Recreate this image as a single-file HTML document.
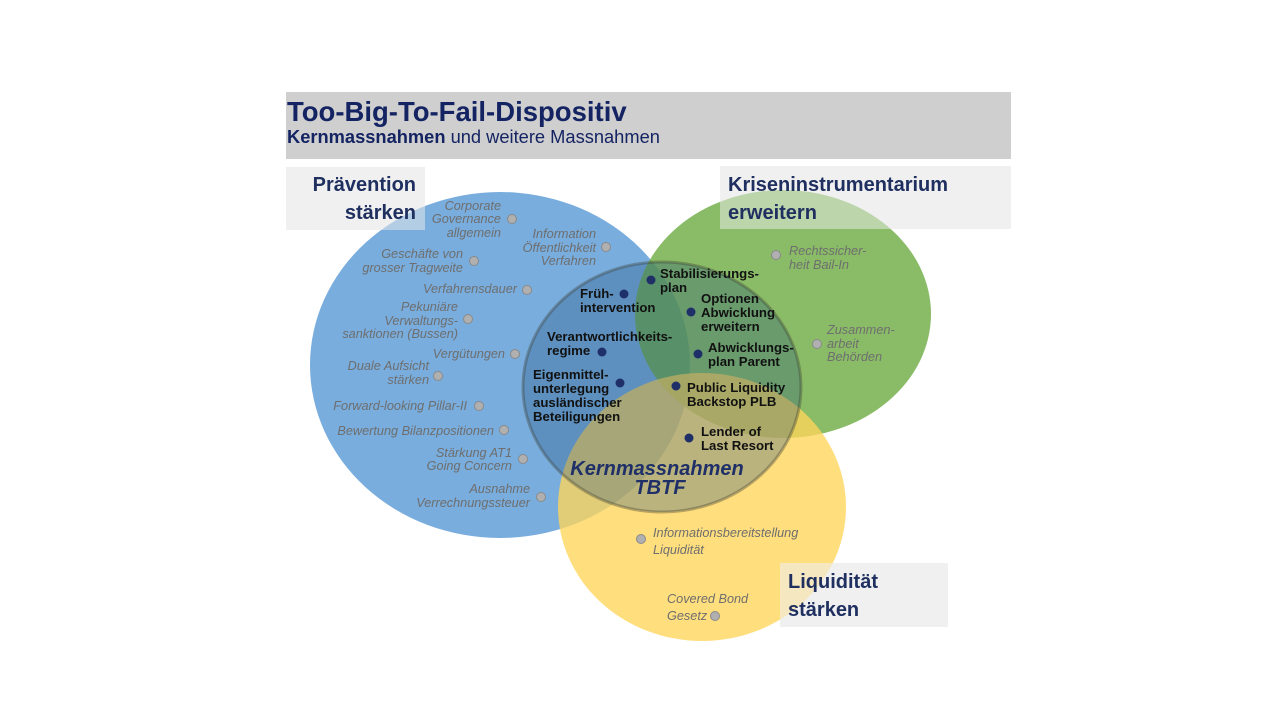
<!DOCTYPE html>
<html><head><meta charset="utf-8"><style>
html,body{margin:0;padding:0;background:#fff;}
svg{display:block;font-family:"Liberation Sans",sans-serif;}
.g{font-style:italic;font-size:12.7px;fill:#6e6e6e;}
.k{font-weight:bold;font-size:13.2px;fill:#111;}
.h{font-weight:bold;font-size:20px;fill:#1f3060;}
.gd{fill:#b0b0b0;stroke:#8a8a8a;stroke-width:1;}
.bd{fill:#1f3068;}
</style></head><body>
<svg width="1280" height="720" viewBox="0 0 1280 720">
<rect x="286" y="92" width="725" height="67" fill="#d0cfcf"/>
<text x="287" y="121" font-size="27.5" font-weight="bold" fill="#142463">Too-Big-To-Fail-Dispositiv</text>
<text x="287" y="143" font-size="18.3" fill="#142463"><tspan font-weight="bold">Kernmassnahmen</tspan> und weitere Massnahmen</text>

<rect x="286" y="167" width="139" height="63" fill="#f0f0f0"/>
<rect x="720" y="166" width="291" height="63" fill="#f0f0f0"/>
<rect x="780" y="563" width="168" height="64" fill="#f0f0f0"/>

<ellipse cx="500" cy="365" rx="190" ry="173" fill="#5b9bd5" fill-opacity="0.82"/>
<ellipse cx="783" cy="314" rx="148" ry="124" fill="#70ad47" fill-opacity="0.82"/>
<ellipse cx="702" cy="507" rx="144" ry="134" fill="#ffd55a" fill-opacity="0.78"/>
<ellipse cx="662" cy="387" rx="139" ry="125" fill="#1f4e79" fill-opacity="0.3" stroke="#3a3a2a" stroke-opacity="0.35" stroke-width="3"/>

<rect x="286" y="167" width="139" height="63" fill="#f0f0f0" fill-opacity="0.5"/>
<rect x="720" y="166" width="291" height="63" fill="#f0f0f0" fill-opacity="0.5"/>
<rect x="780" y="563" width="168" height="64" fill="#f0f0f0" fill-opacity="0.6"/>

<text class="h" x="416" y="191" text-anchor="end">Prävention</text>
<text class="h" x="416" y="219" text-anchor="end">stärken</text>
<text class="h" x="728" y="191">Kriseninstrumentarium</text>
<text class="h" x="728" y="219">erweitern</text>
<text class="h" x="788" y="588">Liquidität</text>
<text class="h" x="788" y="616">stärken</text>

<g class="g" text-anchor="end">
<text x="501" y="210">Corporate</text><text x="501" y="223">Governance</text><text x="501" y="237">allgemein</text>
<text x="596" y="238">Information</text><text x="596" y="252">Öffentlichkeit</text><text x="596" y="265">Verfahren</text>
<text x="463" y="258">Geschäfte von</text><text x="463" y="272">grosser Tragweite</text>
<text x="517" y="293">Verfahrensdauer</text>
<text x="458" y="311">Pekuniäre</text><text x="458" y="325">Verwaltungs-</text><text x="458" y="338">sanktionen (Bussen)</text>
<text x="505" y="358">Vergütungen</text>
<text x="429" y="370">Duale Aufsicht</text><text x="429" y="384">stärken</text>
<text x="467" y="410">Forward-looking Pillar-II</text>
<text x="494" y="435">Bewertung Bilanzpositionen</text>
<text x="512" y="457">Stärkung AT1</text><text x="512" y="470">Going Concern</text>
<text x="530" y="493">Ausnahme</text><text x="530" y="507">Verrechnungssteuer</text>
</g>
<g class="g">
<text x="789" y="255">Rechtssicher-</text><text x="789" y="269">heit Bail-In</text>
<text x="827" y="334">Zusammen-</text><text x="827" y="348">arbeit</text><text x="827" y="361">Behörden</text>
<text x="653" y="537">Informationsbereitstellung</text><text x="653" y="554">Liquidität</text>
<text x="667" y="603">Covered Bond</text><text x="667" y="620">Gesetz</text>
</g>
<g class="gd">
<circle cx="512" cy="219" r="4.5"/><circle cx="606" cy="247" r="4.5"/><circle cx="474" cy="261" r="4.5"/>
<circle cx="527" cy="290" r="4.5"/><circle cx="468" cy="319" r="4.5"/><circle cx="515" cy="354" r="4.5"/>
<circle cx="438" cy="376" r="4.5"/><circle cx="479" cy="406" r="4.5"/><circle cx="504" cy="430" r="4.5"/>
<circle cx="523" cy="459" r="4.5"/><circle cx="541" cy="497" r="4.5"/>
<circle cx="776" cy="255" r="4.5"/><circle cx="817" cy="344" r="4.5"/>
<circle cx="641" cy="539" r="4.5"/><circle cx="715" cy="616" r="4.5"/>
</g>
<g class="k">
<text x="580" y="298">Früh-</text><text x="580" y="312">intervention</text>
<text x="660" y="278">Stabilisierungs-</text><text x="660" y="292">plan</text>
<text x="701" y="303">Optionen</text><text x="701" y="317">Abwicklung</text><text x="701" y="331">erweitern</text>
<text x="547" y="341">Verantwortlichkeits-</text><text x="547" y="355">regime</text>
<text x="708" y="352">Abwicklungs-</text><text x="708" y="366">plan Parent</text>
<text x="533" y="379">Eigenmittel-</text><text x="533" y="393">unterlegung</text><text x="533" y="407">ausländischer</text><text x="533" y="421">Beteiligungen</text>
<text x="687" y="392">Public Liquidity</text><text x="687" y="406">Backstop PLB</text>
<text x="701" y="436">Lender of</text><text x="701" y="450">Last Resort</text>
</g>
<g class="bd">
<circle cx="624" cy="294" r="4.5"/><circle cx="651" cy="280" r="4.5"/><circle cx="691" cy="312" r="4.5"/>
<circle cx="602" cy="352" r="4.5"/><circle cx="698" cy="354" r="4.5"/><circle cx="620" cy="383" r="4.5"/>
<circle cx="676" cy="386" r="4.5"/><circle cx="689" cy="438" r="4.5"/>
</g>
<text x="657" y="475" text-anchor="middle" font-size="20" font-weight="bold" font-style="italic" fill="#1f3068">Kernmassnahmen</text>
<text x="660" y="494" text-anchor="middle" font-size="20" font-weight="bold" font-style="italic" fill="#1f3068">TBTF</text>
</svg>
</body></html>
